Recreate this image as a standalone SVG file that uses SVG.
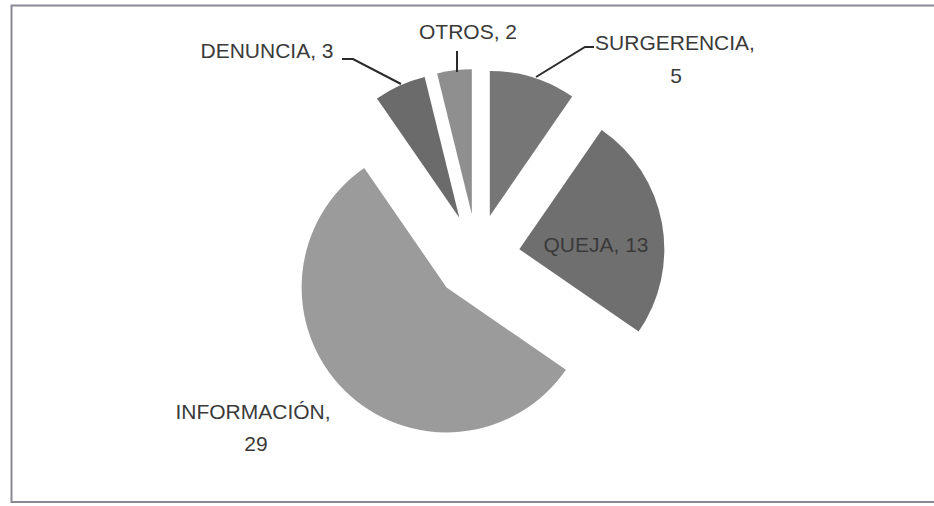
<svg xmlns="http://www.w3.org/2000/svg" width="934" height="506" viewBox="0 0 934 506">
<style>
text{font-family:"Liberation Sans",Arial,sans-serif;font-size:21px;fill:#3a3a3a;text-anchor:middle}
.lead{fill:none;stroke:#2a2a2a;stroke-width:2}
</style>
<rect x="0" y="0" width="934" height="506" fill="#ffffff"/>
<rect x="11.5" y="5.5" width="930" height="496.5" fill="none" stroke="#8a8a96" stroke-width="2"/>
<g id="surgerencia">
<path d="M489.8,215.95 L489.8,70.95 A145,145 0 0 1 572.17,96.61 Z" fill="#767676"/>
<text x="675" y="50">SURGERENCIA,</text>
<text x="676" y="83">5</text>
</g>
<g id="queja">
<path d="M519.3,249.25 L601.67,129.91 A145,145 0 0 1 638.64,331.62 Z" fill="#6f6f6f"/>
<text x="596" y="252">QUEJA, 13</text>
</g>
<g id="informacion">
<path d="M446.59,287.41 L565.93,369.78 A145,145 0 1 1 364.22,168.07 Z" fill="#9b9b9b"/>
<text x="253" y="419">INFORMACIÓN,</text>
<text x="256" y="451">29</text>
</g>
<g id="denuncia">
<path d="M459.35,217.79 L376.98,98.45 A145,145 0 0 1 424.65,77.01 Z" fill="#6b6b6b"/>
<text x="267" y="58">DENUNCIA, 3</text>
</g>
<g id="otros">
<path d="M471.82,214.31 L437.12,73.53 A145,145 0 0 1 471.82,69.31 Z" fill="#8f8f8f"/>
<text x="468" y="39">OTROS, 2</text>
</g>
<g id="connectors">
<polyline class="lead" points="342,59 353,59 401,84"/>
<polyline class="lead" points="457,51 457,72"/>
<polyline class="lead" points="536,77 585,47 594,47"/>
</g>
</svg>
